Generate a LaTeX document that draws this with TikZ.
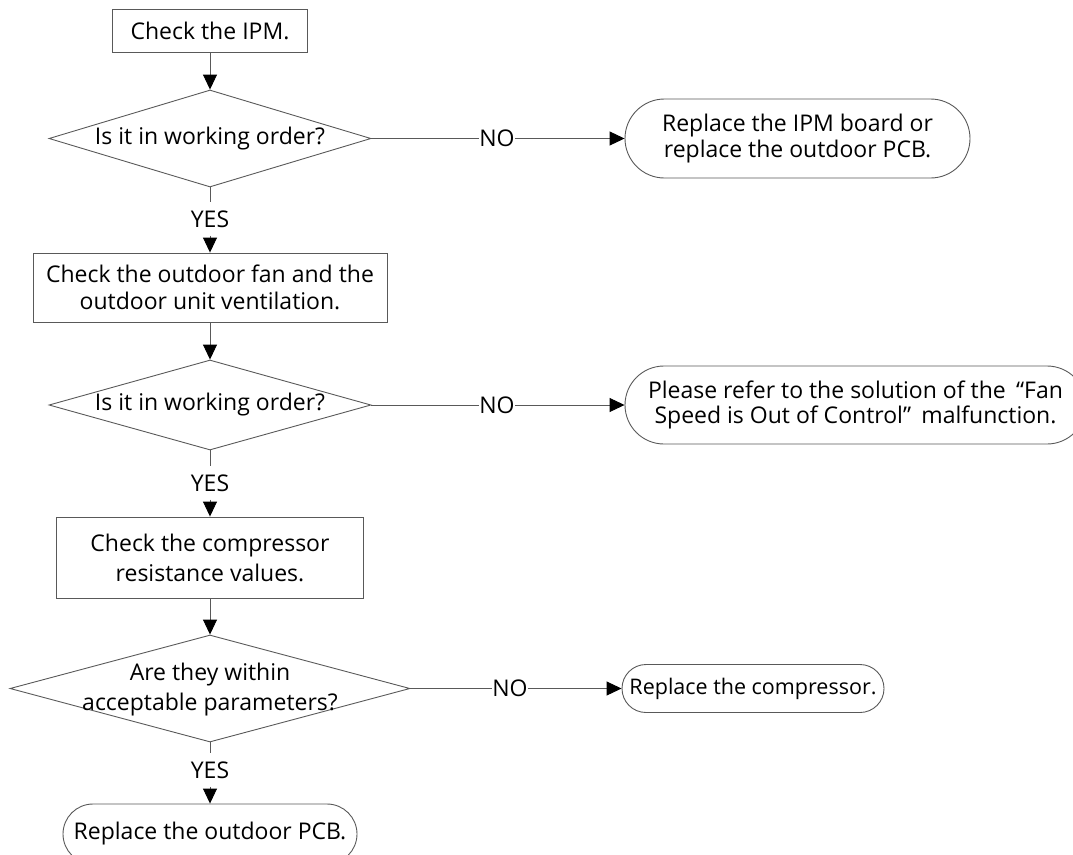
\documentclass[tikz,border=0pt]{standalone}
\usepackage{fontspec}
\setmainfont{Open Sans}
\usetikzlibrary{shapes.geometric,arrows.meta}
\begin{document}
\begin{tikzpicture}[x=1pt,y=-1pt,
  txt/.style={font=\fontsize{23}{27}\selectfont, text=black, align=center},
  line/.style={draw=black!65, line width=0.9pt},
  procbox/.style={line, rectangle, inner sep=0pt, txt},
  decision/.style={line, diamond, inner sep=0pt},
  term/.style={line, rectangle, inner sep=0pt, txt},
  yeslbl/.style={txt, inner xsep=0pt, inner ysep=8pt},
  nolbl/.style={txt, inner xsep=0pt, inner ysep=0pt},
  arr/.style={line, -{Triangle[length=15pt,width=14pt,color=black]}}
]
\useasboundingbox (0,0) rectangle (1073,854);

% main column
\node[procbox, minimum width=195pt, minimum height=43pt] (b1) at (210,30.5) {Check the IPM.};
\node[decision, minimum width=322pt, minimum height=97pt] (d1) at (210,138.5) {};
\node[txt] (d1t) at (d1.center) {Is it in working order?};
\node[yeslbl] (y1) at (210,219) {YES};
\node[procbox, minimum width=354pt, minimum height=69pt] (b2) at (210,287.5) {Check the outdoor fan and the\\outdoor unit ventilation.};
\node[decision, minimum width=322pt, minimum height=90pt] (d2) at (210,405) {};
\node[txt] (d2t) at (d2.center) {Is it in working order?};
\node[yeslbl] (y2) at (210,483) {YES};
\node[procbox, minimum width=307pt, minimum height=81pt, font=\fontsize{23}{30}\selectfont] (b3) at (210,557.5) {Check the compressor\\resistance values.};
\node[decision, minimum width=400pt, minimum height=107pt] (d3) at (210,688.5) {};
\node[txt, font=\fontsize{23}{30}\selectfont] (d3t) at (210,690) {Are they within\\acceptable parameters?};
\node[yeslbl] (y3) at (210,770) {YES};
\node[term, minimum width=294pt, minimum height=60pt, rounded corners=30pt] (t4) at (210,834) {Replace the outdoor PCB.};

% right column
\node[term, minimum width=345pt, minimum height=79pt, rounded corners=39.5pt, font=\fontsize{23}{26}\selectfont] (t1) at (797.5,138.5) {Replace the IPM board or\\replace the outdoor PCB.};
\node[term, minimum width=461pt, minimum height=78pt, rounded corners=39pt, font=\fontsize{23}{25}\selectfont] (t2) at (855.5,405) {Please refer to the solution of the\hspace{0.45em}“Fan\\Speed is Out of Control”\hspace{0.45em}malfunction.};
\node[term, minimum width=262pt, minimum height=48pt, rounded corners=24pt, font=\fontsize{21.5}{26}\selectfont] (t3) at (753,688.5) {Replace the compressor.};

% NO labels
\node[nolbl] (n1) at (497,138.5) {NO};
\node[nolbl] (n2) at (497,405) {NO};
\node[nolbl] (n3) at (510,688.5) {NO};

% connectors
\draw[arr] (b1.south) -- (d1.north);
\draw[line] (d1.south) -- (y1.north);
\draw[arr] (y1.south) -- (b2.north);
\draw[arr] (b2.south) -- (d2.north);
\draw[line] (d2.south) -- (y2.north);
\draw[arr] (y2.south) -- (b3.north);
\draw[arr] (b3.south) -- (d3.north);
\draw[line] (d3.south) -- (y3.north);
\draw[arr] (y3.south) -- (t4.north);

\draw[line] (d1.east) -- (n1.west);
\draw[arr] (n1.east) -- (t1.west);
\draw[line] (d2.east) -- (n2.west);
\draw[arr] (n2.east) -- (t2.west);
\draw[line] (d3.east) -- (n3.west);
\draw[arr] (n3.east) -- (t3.west);
\end{tikzpicture}
\end{document}
